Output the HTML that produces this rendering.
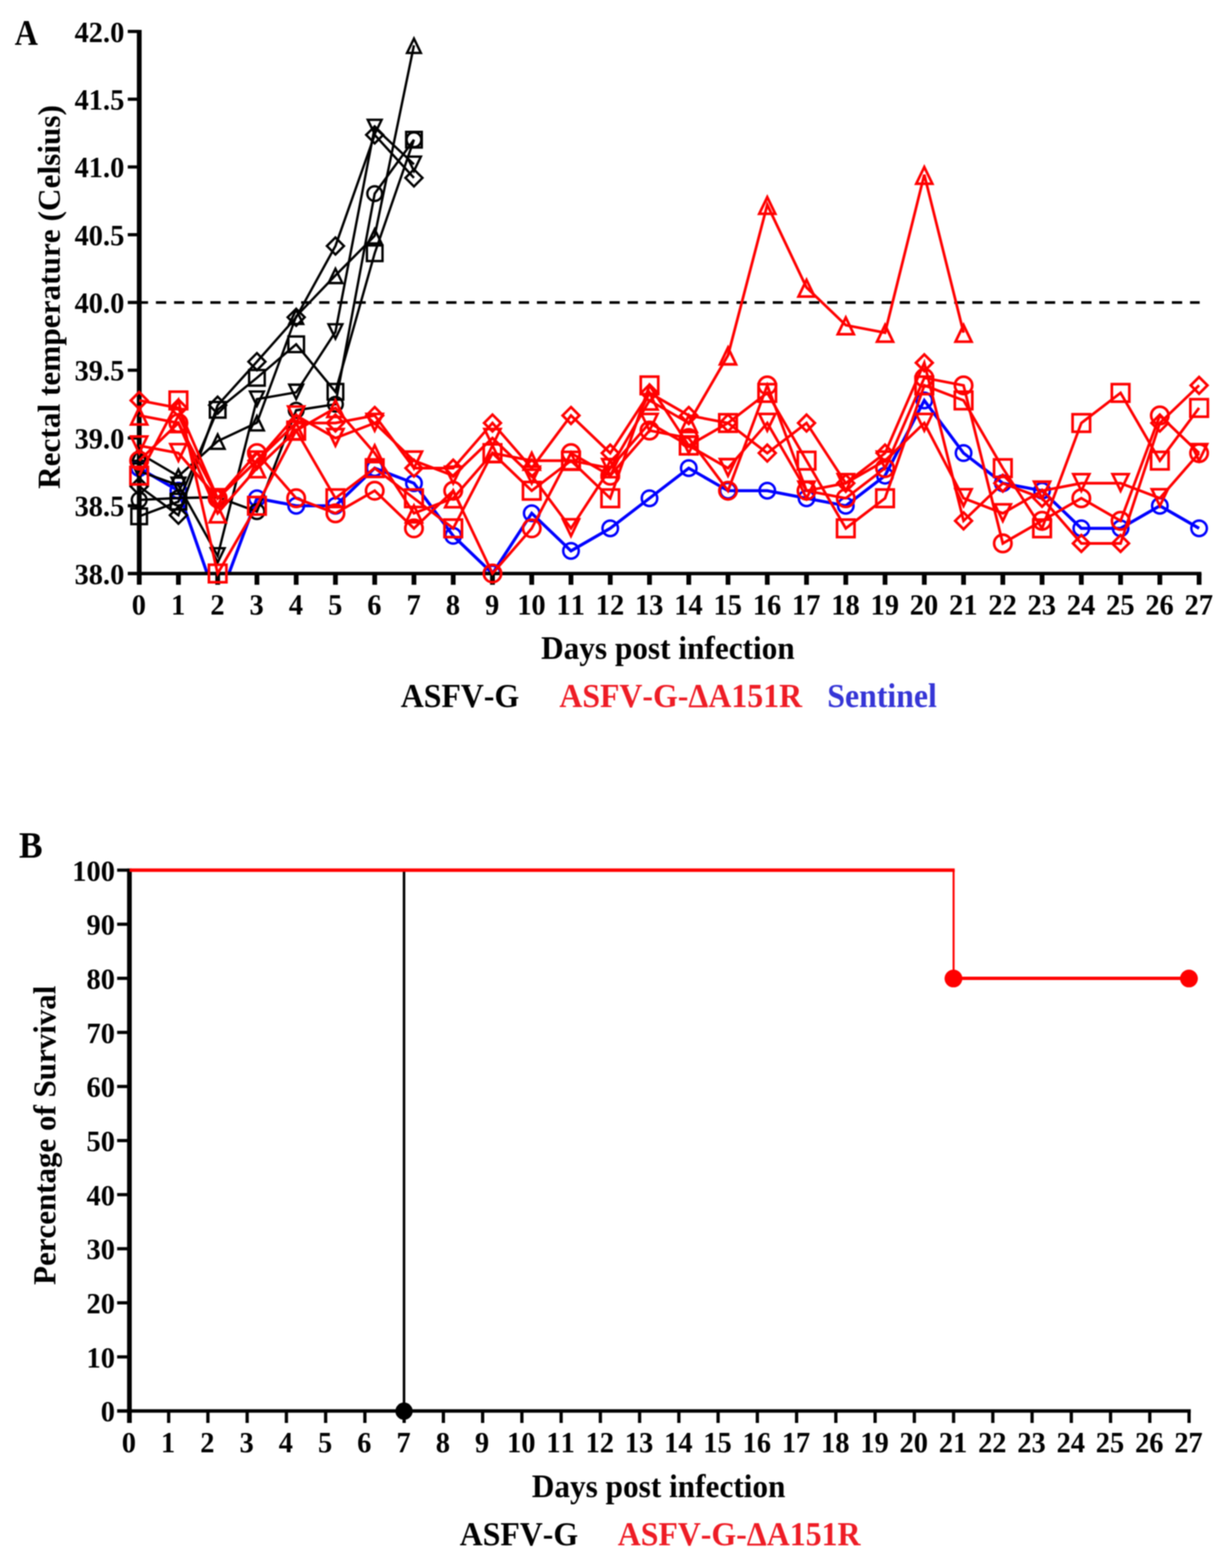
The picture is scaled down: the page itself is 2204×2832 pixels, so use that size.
<!DOCTYPE html>
<html lang="en"><head><meta charset="utf-8"><title>Rectal temperature and survival</title>
<style>
html,body{margin:0;padding:0;background:#fff;}
body{width:2204px;height:2832px;overflow:hidden;}
svg{display:block;position:absolute;left:0;top:0;}
text{font-family:"Liberation Serif","DejaVu Serif",serif;font-weight:bold;font-kerning:none;font-variant-ligatures:none;}
.tk{font-size:51.4px;}
.ti{font-size:56.5px;}
.lg{font-size:57.5px;}
.pl{font-size:64px;}
</style></head><body>
<svg xmlns="http://www.w3.org/2000/svg" width="2204" height="2832" viewBox="0 0 2204 2832">
<defs><filter id="soft" x="0" y="0" width="2204" height="2832" filterUnits="userSpaceOnUse" color-interpolation-filters="sRGB"><feConvolveMatrix order="5" kernelMatrix="1 4 6 4 1 4 16 24 16 4 6 24 36 24 6 4 16 24 16 4 1 4 6 4 1" divisor="256" edgeMode="duplicate" preserveAlpha="true"/></filter></defs>
<rect width="2204" height="2832" fill="#fff"/>
<g id="fig">
<rect width="2204" height="2832" fill="#fff"/>
<g id="chartA">
<line x1="248.9" y1="546.4" x2="2167.3" y2="546.4" stroke="#000" stroke-width="4.8" stroke-dasharray="18.6 14.175"/>
<clipPath id="clipA"><rect x="0" y="0" width="2204" height="1035.8"/></clipPath>
<g fill="none" stroke="#00f" stroke-linejoin="miter" clip-path="url(#clipA)">
<path d="M251.4 845.54L322.32 886.31L393.24 1090.16L464.16 899.9L535.08 913.49L606 913.49L676.92 845.54L747.84 872.72L818.76 967.85L889.68 1035.8L960.6 927.08L1031.52 995.03L1102.44 954.26L1173.36 899.9L1244.28 845.54L1315.2 886.31L1386.12 886.31L1457.04 899.9L1527.96 913.49L1598.88 859.13L1669.8 723.23L1740.72 818.36L1811.64 872.72L1882.56 886.31L1953.48 954.26L2024.4 954.26L2095.32 913.49L2166.24 954.26" stroke-width="5.6"/>
<g stroke-width="4.5"><circle cx="251.4" cy="845.54" r="14"/><circle cx="322.32" cy="886.31" r="14"/><circle cx="464.16" cy="899.9" r="14"/><circle cx="535.08" cy="913.49" r="14"/><circle cx="606" cy="913.49" r="14"/><circle cx="676.92" cy="845.54" r="14"/><circle cx="747.84" cy="872.72" r="14"/><circle cx="818.76" cy="967.85" r="14"/><circle cx="889.68" cy="1035.8" r="14"/><circle cx="960.6" cy="927.08" r="14"/><circle cx="1031.52" cy="995.03" r="14"/><circle cx="1102.44" cy="954.26" r="14"/><circle cx="1173.36" cy="899.9" r="14"/><circle cx="1244.28" cy="845.54" r="14"/><circle cx="1315.2" cy="886.31" r="14"/><circle cx="1386.12" cy="886.31" r="14"/><circle cx="1457.04" cy="899.9" r="14"/><circle cx="1527.96" cy="913.49" r="14"/><circle cx="1598.88" cy="859.13" r="14"/><circle cx="1669.8" cy="723.23" r="14"/><circle cx="1740.72" cy="818.36" r="14"/><circle cx="1811.64" cy="872.72" r="14"/><circle cx="1882.56" cy="886.31" r="14"/><circle cx="1953.48" cy="954.26" r="14"/><circle cx="2024.4" cy="954.26" r="14"/><circle cx="2095.32" cy="913.49" r="14"/><circle cx="2166.24" cy="954.26" r="14"/></g>
</g>
<g stroke="#000" fill="none" stroke-linecap="butt">
<line x1="230.8" y1="1035.85" x2="2170.4" y2="1035.85" stroke-width="6.2"/>
<line x1="251.55" y1="53.9" x2="251.55" y2="1055.9" stroke-width="8.6"/>
<line x1="230.8" y1="913.42" x2="251.5" y2="913.42" stroke-width="5.8"/>
<line x1="230.8" y1="791.05" x2="251.5" y2="791.05" stroke-width="5.8"/>
<line x1="230.8" y1="668.67" x2="251.5" y2="668.67" stroke-width="5.8"/>
<line x1="230.8" y1="546.3" x2="251.5" y2="546.3" stroke-width="5.8"/>
<line x1="230.8" y1="423.92" x2="251.5" y2="423.92" stroke-width="5.8"/>
<line x1="230.8" y1="301.55" x2="251.5" y2="301.55" stroke-width="5.8"/>
<line x1="230.8" y1="179.17" x2="251.5" y2="179.17" stroke-width="5.8"/>
<line x1="230.8" y1="56.8" x2="251.5" y2="56.8" stroke-width="5.8"/>
<line x1="322.32" y1="1035.8" x2="322.32" y2="1056.2" stroke-width="8.6"/>
<line x1="393.24" y1="1035.8" x2="393.24" y2="1056.2" stroke-width="8.6"/>
<line x1="464.16" y1="1035.8" x2="464.16" y2="1056.2" stroke-width="8.6"/>
<line x1="535.08" y1="1035.8" x2="535.08" y2="1056.2" stroke-width="8.6"/>
<line x1="606" y1="1035.8" x2="606" y2="1056.2" stroke-width="8.6"/>
<line x1="676.92" y1="1035.8" x2="676.92" y2="1056.2" stroke-width="8.6"/>
<line x1="747.84" y1="1035.8" x2="747.84" y2="1056.2" stroke-width="8.6"/>
<line x1="818.76" y1="1035.8" x2="818.76" y2="1056.2" stroke-width="8.6"/>
<line x1="889.68" y1="1035.8" x2="889.68" y2="1056.2" stroke-width="8.6"/>
<line x1="960.6" y1="1035.8" x2="960.6" y2="1056.2" stroke-width="8.6"/>
<line x1="1031.52" y1="1035.8" x2="1031.52" y2="1056.2" stroke-width="8.6"/>
<line x1="1102.44" y1="1035.8" x2="1102.44" y2="1056.2" stroke-width="8.6"/>
<line x1="1173.36" y1="1035.8" x2="1173.36" y2="1056.2" stroke-width="8.6"/>
<line x1="1244.28" y1="1035.8" x2="1244.28" y2="1056.2" stroke-width="8.6"/>
<line x1="1315.2" y1="1035.8" x2="1315.2" y2="1056.2" stroke-width="8.6"/>
<line x1="1386.12" y1="1035.8" x2="1386.12" y2="1056.2" stroke-width="8.6"/>
<line x1="1457.04" y1="1035.8" x2="1457.04" y2="1056.2" stroke-width="8.6"/>
<line x1="1527.96" y1="1035.8" x2="1527.96" y2="1056.2" stroke-width="8.6"/>
<line x1="1598.88" y1="1035.8" x2="1598.88" y2="1056.2" stroke-width="8.6"/>
<line x1="1669.8" y1="1035.8" x2="1669.8" y2="1056.2" stroke-width="8.6"/>
<line x1="1740.72" y1="1035.8" x2="1740.72" y2="1056.2" stroke-width="8.6"/>
<line x1="1811.64" y1="1035.8" x2="1811.64" y2="1056.2" stroke-width="8.6"/>
<line x1="1882.56" y1="1035.8" x2="1882.56" y2="1056.2" stroke-width="8.6"/>
<line x1="1953.48" y1="1035.8" x2="1953.48" y2="1056.2" stroke-width="8.6"/>
<line x1="2024.4" y1="1035.8" x2="2024.4" y2="1056.2" stroke-width="8.6"/>
<line x1="2095.32" y1="1035.8" x2="2095.32" y2="1056.2" stroke-width="8.6"/>
<line x1="2166.24" y1="1035.8" x2="2166.24" y2="1056.2" stroke-width="8.6"/>
</g>
<g fill="none" stroke="#000" stroke-linejoin="miter" stroke-linecap="butt">
<path d="M251.4 903L322.32 899.5L393.24 898L464.16 924L535.08 741L606 730.1L676.92 349.7L747.84 252.3" stroke-width="4.3"/>
<g stroke-width="4.3"><circle cx="251.4" cy="903" r="13.3"/><circle cx="322.32" cy="899.5" r="13.3"/><circle cx="393.24" cy="898" r="13.3"/><circle cx="464.16" cy="924" r="13.3"/><circle cx="535.08" cy="741" r="13.3"/><circle cx="606" cy="730.1" r="13.3"/><circle cx="676.92" cy="349.7" r="13.3"/><circle cx="747.84" cy="252.3" r="13.3"/></g>
<path d="M251.4 932.5L322.32 906L393.24 740.2L464.16 682.4L535.08 621.8L606 707.6L676.92 457.4L747.84 252.3" stroke-width="4.3"/>
<g stroke-width="4.3"><rect x="237.3" y="918.4" width="28.2" height="28.2"/><rect x="308.22" y="891.9" width="28.2" height="28.2"/><rect x="379.14" y="726.1" width="28.2" height="28.2"/><rect x="450.06" y="668.3" width="28.2" height="28.2"/><rect x="520.98" y="607.7" width="28.2" height="28.2"/><rect x="591.9" y="693.5" width="28.2" height="28.2"/><rect x="662.82" y="443.3" width="28.2" height="28.2"/><rect x="733.74" y="238.2" width="28.2" height="28.2"/></g>
<path d="M251.4 818.5L322.32 860L393.24 796.8L464.16 763.5L535.08 571.3L606 497.4L676.92 425.9L747.84 81.8" stroke-width="4.3"/>
<g stroke-width="4.3"><path d="M251.4 806.5L263.9 832.35L238.9 832.35Z"/><path d="M322.32 848L334.82 873.85L309.82 873.85Z"/><path d="M393.24 784.8L405.74 810.65L380.74 810.65Z"/><path d="M464.16 751.5L476.66 777.35L451.66 777.35Z"/><path d="M535.08 559.3L547.58 585.15L522.58 585.15Z"/><path d="M606 485.4L618.5 511.25L593.5 511.25Z"/><path d="M676.92 413.9L689.42 439.75L664.42 439.75Z"/><path d="M747.84 69.8L760.34 95.65L735.34 95.65Z"/></g>
<path d="M251.4 851L322.32 876.5L393.24 1004L464.16 721L535.08 708.6L606 599.5L676.92 230.2L747.84 296.8" stroke-width="4.3"/>
<g stroke-width="4.3"><path d="M251.4 863L263.9 837.15L238.9 837.15Z"/><path d="M322.32 888.5L334.82 862.65L309.82 862.65Z"/><path d="M393.24 1016L405.74 990.15L380.74 990.15Z"/><path d="M464.16 733L476.66 707.15L451.66 707.15Z"/><path d="M535.08 720.6L547.58 694.75L522.58 694.75Z"/><path d="M606 611.5L618.5 585.65L593.5 585.65Z"/><path d="M676.92 242.2L689.42 216.35L664.42 216.35Z"/><path d="M747.84 308.8L760.34 282.95L735.34 282.95Z"/></g>
<path d="M251.4 878.5L322.32 930.5L393.24 731.8L464.16 653.2L535.08 573.1L606 444.3L676.92 243.6L747.84 321.3" stroke-width="4.3"/>
<g stroke-width="4.3"><path d="M251.4 863.1L266.8 878.5L251.4 893.9L236 878.5Z"/><path d="M322.32 915.1L337.72 930.5L322.32 945.9L306.92 930.5Z"/><path d="M393.24 716.4L408.64 731.8L393.24 747.2L377.84 731.8Z"/><path d="M464.16 637.8L479.56 653.2L464.16 668.6L448.76 653.2Z"/><path d="M535.08 557.7L550.48 573.1L535.08 588.5L519.68 573.1Z"/><path d="M606 428.9L621.4 444.3L606 459.7L590.6 444.3Z"/><path d="M676.92 228.2L692.32 243.6L676.92 259L661.52 243.6Z"/><path d="M747.84 305.9L763.24 321.3L747.84 336.7L732.44 321.3Z"/></g>
</g>
<g fill="none" stroke="#f00" stroke-linejoin="miter">
<path d="M251.4 831.95L322.32 764L393.24 899.9L464.16 818.36L535.08 899.9L606 927.08L676.92 886.31L747.84 954.26L818.76 886.31L889.68 1035.8L960.6 954.26L1031.52 818.36L1102.44 859.13L1173.36 777.59L1244.28 791.18L1315.2 886.31L1386.12 696.05L1457.04 886.31L1527.96 899.9L1598.88 845.54L1669.8 682.46L1740.72 696.05L1811.64 981.44L1882.56 940.67L1953.48 899.9L2024.4 940.67L2095.32 750.41L2166.24 818.36" stroke-width="4.9"/>
<g stroke-width="4.8"><circle cx="251.4" cy="831.95" r="15.7"/><circle cx="322.32" cy="764" r="15.7"/><circle cx="393.24" cy="899.9" r="15.7"/><circle cx="464.16" cy="818.36" r="15.7"/><circle cx="535.08" cy="899.9" r="15.7"/><circle cx="606" cy="927.08" r="15.7"/><circle cx="676.92" cy="886.31" r="15.7"/><circle cx="747.84" cy="954.26" r="15.7"/><circle cx="818.76" cy="886.31" r="15.7"/><circle cx="889.68" cy="1035.8" r="15.7"/><circle cx="960.6" cy="954.26" r="15.7"/><circle cx="1031.52" cy="818.36" r="15.7"/><circle cx="1102.44" cy="859.13" r="15.7"/><circle cx="1173.36" cy="777.59" r="15.7"/><circle cx="1244.28" cy="791.18" r="15.7"/><circle cx="1315.2" cy="886.31" r="15.7"/><circle cx="1386.12" cy="696.05" r="15.7"/><circle cx="1457.04" cy="886.31" r="15.7"/><circle cx="1527.96" cy="899.9" r="15.7"/><circle cx="1598.88" cy="845.54" r="15.7"/><circle cx="1669.8" cy="682.46" r="15.7"/><circle cx="1740.72" cy="696.05" r="15.7"/><circle cx="1811.64" cy="981.44" r="15.7"/><circle cx="1882.56" cy="940.67" r="15.7"/><circle cx="1953.48" cy="899.9" r="15.7"/><circle cx="2024.4" cy="940.67" r="15.7"/><circle cx="2095.32" cy="750.41" r="15.7"/><circle cx="2166.24" cy="818.36" r="15.7"/></g>
<path d="M251.4 859.13L322.32 723.23L393.24 1035.8L464.16 913.49L535.08 777.59L606 899.9L676.92 845.54L747.84 899.9L818.76 954.26L889.68 818.36L960.6 886.31L1031.52 831.95L1102.44 899.9L1173.36 696.05L1244.28 804.77L1315.2 764L1386.12 709.64L1457.04 831.95L1527.96 954.26L1598.88 899.9L1669.8 696.05L1740.72 723.23L1811.64 845.54L1882.56 954.26L1953.48 764L2024.4 709.64L2095.32 831.95L2166.24 736.82" stroke-width="4.9"/>
<g stroke-width="4.8"><rect x="235.6" y="843.33" width="31.6" height="31.6"/><rect x="306.52" y="707.43" width="31.6" height="31.6"/><rect x="377.44" y="1020" width="31.6" height="31.6"/><rect x="448.36" y="897.69" width="31.6" height="31.6"/><rect x="519.28" y="761.79" width="31.6" height="31.6"/><rect x="590.2" y="884.1" width="31.6" height="31.6"/><rect x="661.12" y="829.74" width="31.6" height="31.6"/><rect x="732.04" y="884.1" width="31.6" height="31.6"/><rect x="802.96" y="938.46" width="31.6" height="31.6"/><rect x="873.88" y="802.56" width="31.6" height="31.6"/><rect x="944.8" y="870.51" width="31.6" height="31.6"/><rect x="1015.72" y="816.15" width="31.6" height="31.6"/><rect x="1086.64" y="884.1" width="31.6" height="31.6"/><rect x="1157.56" y="680.25" width="31.6" height="31.6"/><rect x="1228.48" y="788.97" width="31.6" height="31.6"/><rect x="1299.4" y="748.2" width="31.6" height="31.6"/><rect x="1370.32" y="693.84" width="31.6" height="31.6"/><rect x="1441.24" y="816.15" width="31.6" height="31.6"/><rect x="1512.16" y="938.46" width="31.6" height="31.6"/><rect x="1583.08" y="884.1" width="31.6" height="31.6"/><rect x="1654" y="680.25" width="31.6" height="31.6"/><rect x="1724.92" y="707.43" width="31.6" height="31.6"/><rect x="1795.84" y="829.74" width="31.6" height="31.6"/><rect x="1866.76" y="938.46" width="31.6" height="31.6"/><rect x="1937.68" y="748.2" width="31.6" height="31.6"/><rect x="2008.6" y="693.84" width="31.6" height="31.6"/><rect x="2079.52" y="816.15" width="31.6" height="31.6"/><rect x="2150.44" y="721.02" width="31.6" height="31.6"/></g>
<path d="M251.4 750.41L322.32 764L393.24 927.08L464.16 845.54L535.08 777.59L606 736.82L676.92 818.36L747.84 927.08L818.76 899.9L889.68 818.36L960.6 831.95L1031.52 831.95L1102.44 845.54L1173.36 723.23L1244.28 764L1315.2 641.69L1386.12 369.89L1457.04 519.38L1527.96 587.33L1598.88 600.92L1669.8 315.53L1740.72 600.92" stroke-width="4.9"/>
<g stroke-width="4.8"><path d="M251.4 736.61L265.9 766.71L236.9 766.71Z"/><path d="M322.32 750.2L336.82 780.3L307.82 780.3Z"/><path d="M393.24 913.28L407.74 943.38L378.74 943.38Z"/><path d="M464.16 831.74L478.66 861.84L449.66 861.84Z"/><path d="M535.08 763.79L549.58 793.89L520.58 793.89Z"/><path d="M606 723.02L620.5 753.12L591.5 753.12Z"/><path d="M676.92 804.56L691.42 834.66L662.42 834.66Z"/><path d="M747.84 913.28L762.34 943.38L733.34 943.38Z"/><path d="M818.76 886.1L833.26 916.2L804.26 916.2Z"/><path d="M889.68 804.56L904.18 834.66L875.18 834.66Z"/><path d="M960.6 818.15L975.1 848.25L946.1 848.25Z"/><path d="M1031.52 818.15L1046.02 848.25L1017.02 848.25Z"/><path d="M1102.44 831.74L1116.94 861.84L1087.94 861.84Z"/><path d="M1173.36 709.43L1187.86 739.53L1158.86 739.53Z"/><path d="M1244.28 750.2L1258.78 780.3L1229.78 780.3Z"/><path d="M1315.2 627.89L1329.7 657.99L1300.7 657.99Z"/><path d="M1386.12 356.09L1400.62 386.19L1371.62 386.19Z"/><path d="M1457.04 505.58L1471.54 535.68L1442.54 535.68Z"/><path d="M1527.96 573.53L1542.46 603.63L1513.46 603.63Z"/><path d="M1598.88 587.12L1613.38 617.22L1584.38 617.22Z"/><path d="M1669.8 301.73L1684.3 331.83L1655.3 331.83Z"/><path d="M1740.72 587.12L1755.22 617.22L1726.22 617.22Z"/></g>
<path d="M251.4 804.77L322.32 818.36L393.24 899.9L464.16 831.95L535.08 750.41L606 791.18L676.92 764L747.84 831.95L818.76 859.13L889.68 791.18L960.6 859.13L1031.52 954.26L1102.44 845.54L1173.36 764L1244.28 804.77L1315.2 845.54L1386.12 764L1457.04 886.31L1527.96 872.72L1598.88 831.95L1669.8 764L1740.72 899.9L1811.64 927.08L1882.56 886.31L1953.48 872.72L2024.4 872.72L2095.32 899.9L2166.24 818.36" stroke-width="4.9"/>
<g stroke-width="4.8"><path d="M251.4 818.57L265.9 788.47L236.9 788.47Z"/><path d="M322.32 832.16L336.82 802.06L307.82 802.06Z"/><path d="M393.24 913.7L407.74 883.6L378.74 883.6Z"/><path d="M464.16 845.75L478.66 815.65L449.66 815.65Z"/><path d="M535.08 764.21L549.58 734.11L520.58 734.11Z"/><path d="M606 804.98L620.5 774.88L591.5 774.88Z"/><path d="M676.92 777.8L691.42 747.7L662.42 747.7Z"/><path d="M747.84 845.75L762.34 815.65L733.34 815.65Z"/><path d="M818.76 872.93L833.26 842.83L804.26 842.83Z"/><path d="M889.68 804.98L904.18 774.88L875.18 774.88Z"/><path d="M960.6 872.93L975.1 842.83L946.1 842.83Z"/><path d="M1031.52 968.06L1046.02 937.96L1017.02 937.96Z"/><path d="M1102.44 859.34L1116.94 829.24L1087.94 829.24Z"/><path d="M1173.36 777.8L1187.86 747.7L1158.86 747.7Z"/><path d="M1244.28 818.57L1258.78 788.47L1229.78 788.47Z"/><path d="M1315.2 859.34L1329.7 829.24L1300.7 829.24Z"/><path d="M1386.12 777.8L1400.62 747.7L1371.62 747.7Z"/><path d="M1457.04 900.11L1471.54 870.01L1442.54 870.01Z"/><path d="M1527.96 886.52L1542.46 856.42L1513.46 856.42Z"/><path d="M1598.88 845.75L1613.38 815.65L1584.38 815.65Z"/><path d="M1669.8 777.8L1684.3 747.7L1655.3 747.7Z"/><path d="M1740.72 913.7L1755.22 883.6L1726.22 883.6Z"/><path d="M1811.64 940.88L1826.14 910.78L1797.14 910.78Z"/><path d="M1882.56 900.11L1897.06 870.01L1868.06 870.01Z"/><path d="M1953.48 886.52L1967.98 856.42L1938.98 856.42Z"/><path d="M2024.4 886.52L2038.9 856.42L2009.9 856.42Z"/><path d="M2095.32 913.7L2109.82 883.6L2080.82 883.6Z"/><path d="M2166.24 832.16L2180.74 802.06L2151.74 802.06Z"/></g>
<path d="M251.4 723.23L322.32 736.82L393.24 899.9L464.16 831.95L535.08 764L606 764L676.92 750.41L747.84 845.54L818.76 845.54L889.68 764L960.6 845.54L1031.52 750.41L1102.44 818.36L1173.36 709.64L1244.28 750.41L1315.2 764L1386.12 818.36L1457.04 764L1527.96 872.72L1598.88 818.36L1669.8 655.28L1740.72 940.67L1811.64 872.72L1882.56 899.9L1953.48 981.44L2024.4 981.44L2095.32 764L2166.24 696.05" stroke-width="4.9"/>
<g stroke-width="4.8"><path d="M251.4 708.13L266.5 723.23L251.4 738.33L236.3 723.23Z"/><path d="M322.32 721.72L337.42 736.82L322.32 751.92L307.22 736.82Z"/><path d="M393.24 884.8L408.34 899.9L393.24 915L378.14 899.9Z"/><path d="M464.16 816.85L479.26 831.95L464.16 847.05L449.06 831.95Z"/><path d="M535.08 748.9L550.18 764L535.08 779.1L519.98 764Z"/><path d="M606 748.9L621.1 764L606 779.1L590.9 764Z"/><path d="M676.92 735.31L692.02 750.41L676.92 765.51L661.82 750.41Z"/><path d="M747.84 830.44L762.94 845.54L747.84 860.64L732.74 845.54Z"/><path d="M818.76 830.44L833.86 845.54L818.76 860.64L803.66 845.54Z"/><path d="M889.68 748.9L904.78 764L889.68 779.1L874.58 764Z"/><path d="M960.6 830.44L975.7 845.54L960.6 860.64L945.5 845.54Z"/><path d="M1031.52 735.31L1046.62 750.41L1031.52 765.51L1016.42 750.41Z"/><path d="M1102.44 803.26L1117.54 818.36L1102.44 833.46L1087.34 818.36Z"/><path d="M1173.36 694.54L1188.46 709.64L1173.36 724.74L1158.26 709.64Z"/><path d="M1244.28 735.31L1259.38 750.41L1244.28 765.51L1229.18 750.41Z"/><path d="M1315.2 748.9L1330.3 764L1315.2 779.1L1300.1 764Z"/><path d="M1386.12 803.26L1401.22 818.36L1386.12 833.46L1371.02 818.36Z"/><path d="M1457.04 748.9L1472.14 764L1457.04 779.1L1441.94 764Z"/><path d="M1527.96 857.62L1543.06 872.72L1527.96 887.82L1512.86 872.72Z"/><path d="M1598.88 803.26L1613.98 818.36L1598.88 833.46L1583.78 818.36Z"/><path d="M1669.8 640.18L1684.9 655.28L1669.8 670.38L1654.7 655.28Z"/><path d="M1740.72 925.57L1755.82 940.67L1740.72 955.77L1725.62 940.67Z"/><path d="M1811.64 857.62L1826.74 872.72L1811.64 887.82L1796.54 872.72Z"/><path d="M1882.56 884.8L1897.66 899.9L1882.56 915L1867.46 899.9Z"/><path d="M1953.48 966.34L1968.58 981.44L1953.48 996.54L1938.38 981.44Z"/><path d="M2024.4 966.34L2039.5 981.44L2024.4 996.54L2009.3 981.44Z"/><path d="M2095.32 748.9L2110.42 764L2095.32 779.1L2080.22 764Z"/><path d="M2166.24 680.95L2181.34 696.05L2166.24 711.15L2151.14 696.05Z"/></g>
</g>
<text class="tk" text-anchor="end" transform="translate(224.6 1054.5) scale(1 1.035)">38.0</text>
<text class="tk" text-anchor="end" transform="translate(224.6 932.12) scale(1 1.035)">38.5</text>
<text class="tk" text-anchor="end" transform="translate(224.6 809.75) scale(1 1.035)">39.0</text>
<text class="tk" text-anchor="end" transform="translate(224.6 687.38) scale(1 1.035)">39.5</text>
<text class="tk" text-anchor="end" transform="translate(224.6 565) scale(1 1.035)">40.0</text>
<text class="tk" text-anchor="end" transform="translate(224.6 442.62) scale(1 1.035)">40.5</text>
<text class="tk" text-anchor="end" transform="translate(224.6 320.25) scale(1 1.035)">41.0</text>
<text class="tk" text-anchor="end" transform="translate(224.6 197.87) scale(1 1.035)">41.5</text>
<text class="tk" text-anchor="end" transform="translate(224.6 75.5) scale(1 1.035)">42.0</text>
<text class="tk" text-anchor="middle" transform="translate(250.9 1109.5) scale(1 1.035)">0</text>
<text class="tk" text-anchor="middle" transform="translate(321.82 1109.5) scale(1 1.035)">1</text>
<text class="tk" text-anchor="middle" transform="translate(392.74 1109.5) scale(1 1.035)">2</text>
<text class="tk" text-anchor="middle" transform="translate(463.66 1109.5) scale(1 1.035)">3</text>
<text class="tk" text-anchor="middle" transform="translate(534.58 1109.5) scale(1 1.035)">4</text>
<text class="tk" text-anchor="middle" transform="translate(605.5 1109.5) scale(1 1.035)">5</text>
<text class="tk" text-anchor="middle" transform="translate(676.42 1109.5) scale(1 1.035)">6</text>
<text class="tk" text-anchor="middle" transform="translate(747.34 1109.5) scale(1 1.035)">7</text>
<text class="tk" text-anchor="middle" transform="translate(818.26 1109.5) scale(1 1.035)">8</text>
<text class="tk" text-anchor="middle" transform="translate(889.18 1109.5) scale(1 1.035)">9</text>
<text class="tk" text-anchor="middle" transform="translate(960.1 1109.5) scale(1 1.035)">10</text>
<text class="tk" text-anchor="middle" transform="translate(1031.02 1109.5) scale(1 1.035)">11</text>
<text class="tk" text-anchor="middle" transform="translate(1101.94 1109.5) scale(1 1.035)">12</text>
<text class="tk" text-anchor="middle" transform="translate(1172.86 1109.5) scale(1 1.035)">13</text>
<text class="tk" text-anchor="middle" transform="translate(1243.78 1109.5) scale(1 1.035)">14</text>
<text class="tk" text-anchor="middle" transform="translate(1314.7 1109.5) scale(1 1.035)">15</text>
<text class="tk" text-anchor="middle" transform="translate(1385.62 1109.5) scale(1 1.035)">16</text>
<text class="tk" text-anchor="middle" transform="translate(1456.54 1109.5) scale(1 1.035)">17</text>
<text class="tk" text-anchor="middle" transform="translate(1527.46 1109.5) scale(1 1.035)">18</text>
<text class="tk" text-anchor="middle" transform="translate(1598.38 1109.5) scale(1 1.035)">19</text>
<text class="tk" text-anchor="middle" transform="translate(1669.3 1109.5) scale(1 1.035)">20</text>
<text class="tk" text-anchor="middle" transform="translate(1740.22 1109.5) scale(1 1.035)">21</text>
<text class="tk" text-anchor="middle" transform="translate(1811.14 1109.5) scale(1 1.035)">22</text>
<text class="tk" text-anchor="middle" transform="translate(1882.06 1109.5) scale(1 1.035)">23</text>
<text class="tk" text-anchor="middle" transform="translate(1952.98 1109.5) scale(1 1.035)">24</text>
<text class="tk" text-anchor="middle" transform="translate(2023.9 1109.5) scale(1 1.035)">25</text>
<text class="tk" text-anchor="middle" transform="translate(2094.82 1109.5) scale(1 1.035)">26</text>
<text class="tk" text-anchor="middle" transform="translate(2165.74 1109.5) scale(1 1.035)">27</text>
<text class="ti" text-anchor="middle" transform="translate(1206.6 1190.2) scale(1 1.050)">Days post infection</text>
<text class="ti" text-anchor="middle" transform="translate(108 536.4) rotate(-90) scale(1 1.000)">Rectal temperature (Celsius)</text>
<text class="lg" transform="translate(724 1277.4) scale(1 1.050)">ASFV-G</text>
<text class="lg" fill="#ee1c25" transform="translate(1010.5 1277.4) scale(1 1.050)">ASFV-G-ΔA151R</text>
<text class="lg" fill="#3535d6" transform="translate(1494.5 1277.4) scale(1 1.050)">Sentinel</text>
<text class="pl" transform="translate(26.5 81.2) scale(0.91 1.040)">A</text>
</g>
<g id="chartB">
<g stroke="#000" fill="none">
<line x1="211.6" y1="2548.4" x2="2151.2" y2="2548.4" stroke-width="6.2"/>
<line x1="233.8" y1="1568.7" x2="233.8" y2="2570.1" stroke-width="8.5"/>
<line x1="211.6" y1="2450.72" x2="233.8" y2="2450.72" stroke-width="5.8"/>
<line x1="211.6" y1="2353.04" x2="233.8" y2="2353.04" stroke-width="5.8"/>
<line x1="211.6" y1="2255.36" x2="233.8" y2="2255.36" stroke-width="5.8"/>
<line x1="211.6" y1="2157.68" x2="233.8" y2="2157.68" stroke-width="5.8"/>
<line x1="211.6" y1="2060" x2="233.8" y2="2060" stroke-width="5.8"/>
<line x1="211.6" y1="1962.32" x2="233.8" y2="1962.32" stroke-width="5.8"/>
<line x1="211.6" y1="1864.64" x2="233.8" y2="1864.64" stroke-width="5.8"/>
<line x1="211.6" y1="1766.96" x2="233.8" y2="1766.96" stroke-width="5.8"/>
<line x1="211.6" y1="1669.28" x2="233.8" y2="1669.28" stroke-width="5.8"/>
<line x1="211.6" y1="1571.6" x2="233.8" y2="1571.6" stroke-width="5.8"/>
<line x1="304.7" y1="2548.4" x2="304.7" y2="2570" stroke-width="5.9"/>
<line x1="375.6" y1="2548.4" x2="375.6" y2="2570" stroke-width="5.9"/>
<line x1="446.5" y1="2548.4" x2="446.5" y2="2570" stroke-width="5.9"/>
<line x1="517.4" y1="2548.4" x2="517.4" y2="2570" stroke-width="5.9"/>
<line x1="588.3" y1="2548.4" x2="588.3" y2="2570" stroke-width="5.9"/>
<line x1="659.2" y1="2548.4" x2="659.2" y2="2570" stroke-width="5.9"/>
<line x1="730.1" y1="2548.4" x2="730.1" y2="2570" stroke-width="5.9"/>
<line x1="801" y1="2548.4" x2="801" y2="2570" stroke-width="5.9"/>
<line x1="871.9" y1="2548.4" x2="871.9" y2="2570" stroke-width="5.9"/>
<line x1="942.8" y1="2548.4" x2="942.8" y2="2570" stroke-width="5.9"/>
<line x1="1013.7" y1="2548.4" x2="1013.7" y2="2570" stroke-width="5.9"/>
<line x1="1084.6" y1="2548.4" x2="1084.6" y2="2570" stroke-width="5.9"/>
<line x1="1155.5" y1="2548.4" x2="1155.5" y2="2570" stroke-width="5.9"/>
<line x1="1226.4" y1="2548.4" x2="1226.4" y2="2570" stroke-width="5.9"/>
<line x1="1297.3" y1="2548.4" x2="1297.3" y2="2570" stroke-width="5.9"/>
<line x1="1368.2" y1="2548.4" x2="1368.2" y2="2570" stroke-width="5.9"/>
<line x1="1439.1" y1="2548.4" x2="1439.1" y2="2570" stroke-width="5.9"/>
<line x1="1510" y1="2548.4" x2="1510" y2="2570" stroke-width="5.9"/>
<line x1="1580.9" y1="2548.4" x2="1580.9" y2="2570" stroke-width="5.9"/>
<line x1="1651.8" y1="2548.4" x2="1651.8" y2="2570" stroke-width="5.9"/>
<line x1="1722.7" y1="2548.4" x2="1722.7" y2="2570" stroke-width="5.9"/>
<line x1="1793.6" y1="2548.4" x2="1793.6" y2="2570" stroke-width="5.9"/>
<line x1="1864.5" y1="2548.4" x2="1864.5" y2="2570" stroke-width="5.9"/>
<line x1="1935.4" y1="2548.4" x2="1935.4" y2="2570" stroke-width="5.9"/>
<line x1="2006.3" y1="2548.4" x2="2006.3" y2="2570" stroke-width="5.9"/>
<line x1="2077.2" y1="2548.4" x2="2077.2" y2="2570" stroke-width="5.9"/>
<line x1="2148.1" y1="2548.4" x2="2148.1" y2="2570" stroke-width="5.9"/>
</g>
<line x1="729.9" y1="1571.6" x2="729.9" y2="2548.4" stroke="#000" stroke-width="4.6"/>
<circle cx="729.9" cy="2548.7" r="15.6" fill="#000"/>
<line x1="234.1" y1="1571.6" x2="1724.7" y2="1571.6" stroke="#f00" stroke-width="6.2"/>
<line x1="1722.7" y1="1571.6" x2="1722.7" y2="1766.96" stroke="#f00" stroke-width="3.6"/>
<line x1="1722.5" y1="1766.96" x2="2147.9" y2="1766.96" stroke="#f00" stroke-width="6"/>
<circle cx="1722.5" cy="1767.26" r="16.1" fill="#f00"/>
<circle cx="2147.9" cy="1767.26" r="16.1" fill="#f00"/>
<text class="tk" text-anchor="end" transform="translate(207.6 2567.4) scale(1 1.035)">0</text>
<text class="tk" text-anchor="end" transform="translate(207.6 2469.72) scale(1 1.035)">10</text>
<text class="tk" text-anchor="end" transform="translate(207.6 2372.04) scale(1 1.035)">20</text>
<text class="tk" text-anchor="end" transform="translate(207.6 2274.36) scale(1 1.035)">30</text>
<text class="tk" text-anchor="end" transform="translate(207.6 2176.68) scale(1 1.035)">40</text>
<text class="tk" text-anchor="end" transform="translate(207.6 2079) scale(1 1.035)">50</text>
<text class="tk" text-anchor="end" transform="translate(207.6 1981.32) scale(1 1.035)">60</text>
<text class="tk" text-anchor="end" transform="translate(207.6 1883.64) scale(1 1.035)">70</text>
<text class="tk" text-anchor="end" transform="translate(207.6 1785.96) scale(1 1.035)">80</text>
<text class="tk" text-anchor="end" transform="translate(207.6 1688.28) scale(1 1.035)">90</text>
<text class="tk" text-anchor="end" transform="translate(207.6 1590.6) scale(1 1.035)">100</text>
<text class="tk" text-anchor="middle" transform="translate(232.8 2623) scale(1 1.035)">0</text>
<text class="tk" text-anchor="middle" transform="translate(303.7 2623) scale(1 1.035)">1</text>
<text class="tk" text-anchor="middle" transform="translate(374.6 2623) scale(1 1.035)">2</text>
<text class="tk" text-anchor="middle" transform="translate(445.5 2623) scale(1 1.035)">3</text>
<text class="tk" text-anchor="middle" transform="translate(516.4 2623) scale(1 1.035)">4</text>
<text class="tk" text-anchor="middle" transform="translate(587.3 2623) scale(1 1.035)">5</text>
<text class="tk" text-anchor="middle" transform="translate(658.2 2623) scale(1 1.035)">6</text>
<text class="tk" text-anchor="middle" transform="translate(729.1 2623) scale(1 1.035)">7</text>
<text class="tk" text-anchor="middle" transform="translate(800 2623) scale(1 1.035)">8</text>
<text class="tk" text-anchor="middle" transform="translate(870.9 2623) scale(1 1.035)">9</text>
<text class="tk" text-anchor="middle" transform="translate(941.8 2623) scale(1 1.035)">10</text>
<text class="tk" text-anchor="middle" transform="translate(1012.7 2623) scale(1 1.035)">11</text>
<text class="tk" text-anchor="middle" transform="translate(1083.6 2623) scale(1 1.035)">12</text>
<text class="tk" text-anchor="middle" transform="translate(1154.5 2623) scale(1 1.035)">13</text>
<text class="tk" text-anchor="middle" transform="translate(1225.4 2623) scale(1 1.035)">14</text>
<text class="tk" text-anchor="middle" transform="translate(1296.3 2623) scale(1 1.035)">15</text>
<text class="tk" text-anchor="middle" transform="translate(1367.2 2623) scale(1 1.035)">16</text>
<text class="tk" text-anchor="middle" transform="translate(1438.1 2623) scale(1 1.035)">17</text>
<text class="tk" text-anchor="middle" transform="translate(1509 2623) scale(1 1.035)">18</text>
<text class="tk" text-anchor="middle" transform="translate(1579.9 2623) scale(1 1.035)">19</text>
<text class="tk" text-anchor="middle" transform="translate(1650.8 2623) scale(1 1.035)">20</text>
<text class="tk" text-anchor="middle" transform="translate(1721.7 2623) scale(1 1.035)">21</text>
<text class="tk" text-anchor="middle" transform="translate(1792.6 2623) scale(1 1.035)">22</text>
<text class="tk" text-anchor="middle" transform="translate(1863.5 2623) scale(1 1.035)">23</text>
<text class="tk" text-anchor="middle" transform="translate(1934.4 2623) scale(1 1.035)">24</text>
<text class="tk" text-anchor="middle" transform="translate(2005.3 2623) scale(1 1.035)">25</text>
<text class="tk" text-anchor="middle" transform="translate(2076.2 2623) scale(1 1.035)">26</text>
<text class="tk" text-anchor="middle" transform="translate(2147.1 2623) scale(1 1.035)">27</text>
<text class="ti" text-anchor="middle" transform="translate(1189.8 2704.3) scale(1 1.050)">Days post infection</text>
<text class="ti" text-anchor="middle" transform="translate(99.8 2050.5) rotate(-90) scale(0.99 1.000)">Percentage of Survival</text>
<text class="lg" transform="translate(830.5 2790.6) scale(1 1.050)">ASFV-G</text>
<text class="lg" fill="#ee1c25" transform="translate(1116 2790.6) scale(1 1.050)">ASFV-G-ΔA151R</text>
<text class="pl" transform="translate(34.3 1549.3) scale(1 1.050)">B</text>
</g>
</g>
<use href="#fig" filter="url(#soft)"/>
</svg></body></html>
